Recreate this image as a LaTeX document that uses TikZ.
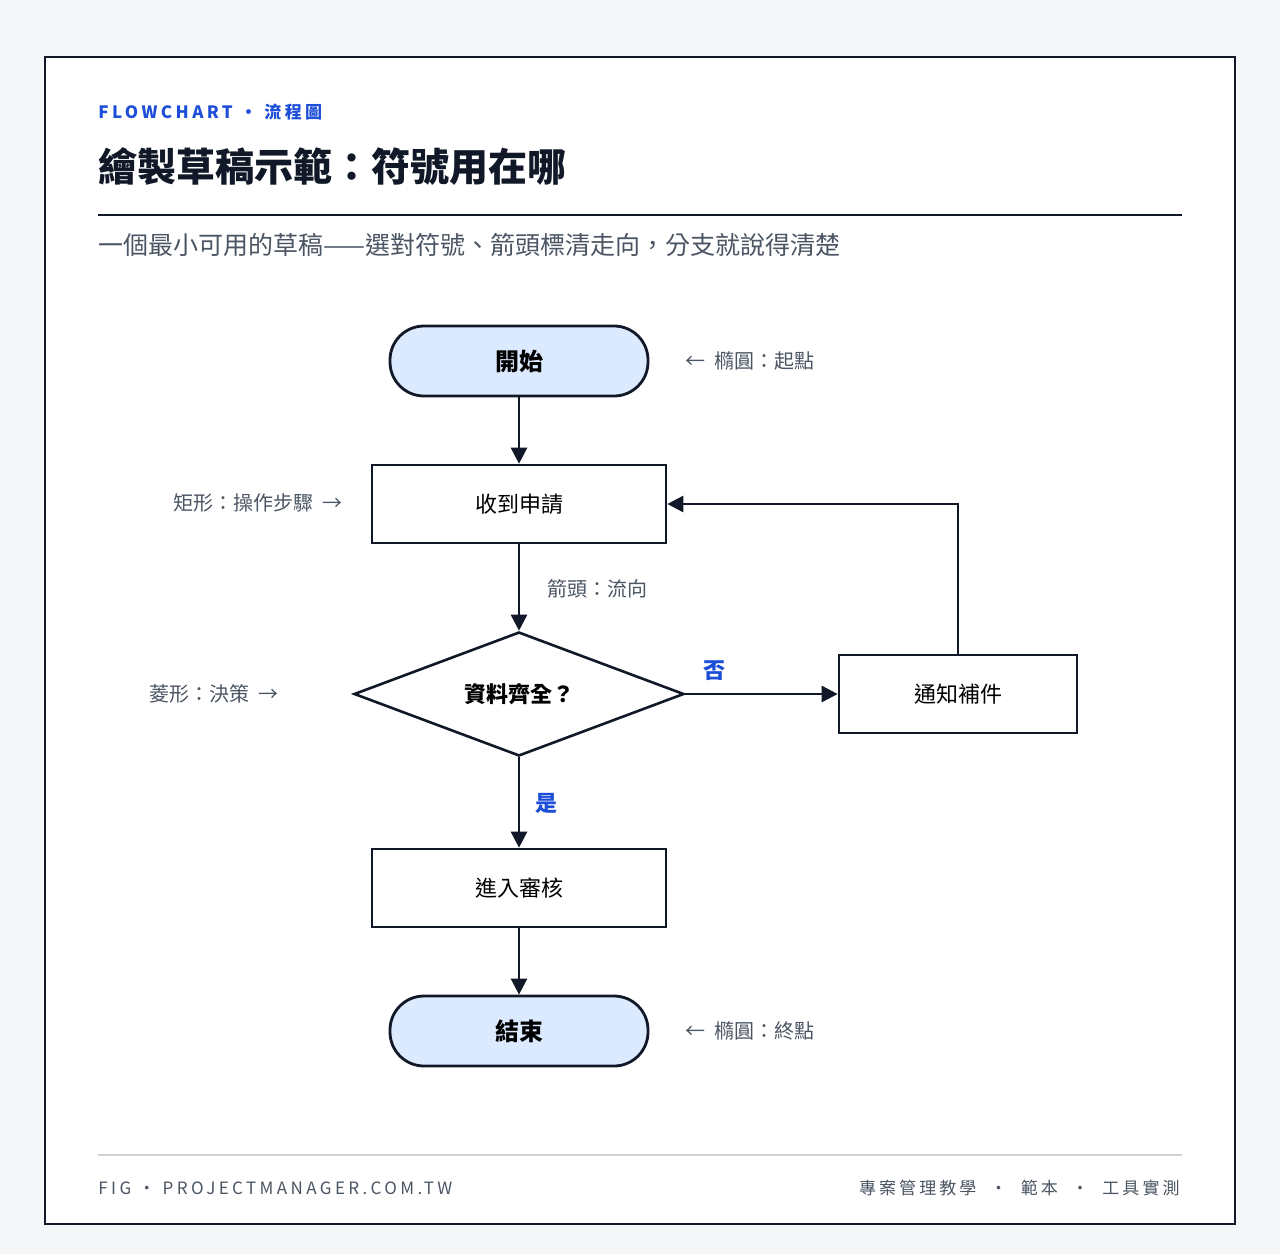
\documentclass[tikz,border=0pt]{standalone}
\usepackage{fontspec}
\setmainfont{Noto Sans CJK TC}
\newfontfamily\spaced{Noto Sans CJK TC}[LetterSpace=20]
\newfontfamily\spacedlight{Noto Sans CJK TC}[LetterSpace=18]
\usetikzlibrary{shapes.geometric,arrows.meta,positioning}
\definecolor{ink}{HTML}{111827}
\definecolor{accent}{HTML}{1D4ED8}
\definecolor{muted}{HTML}{4B5563}
\definecolor{softblue}{HTML}{DBEAFE}
\definecolor{paper}{HTML}{F5F6F8}
\tikzset{
    action/.style={draw=ink, line width=1.3pt, minimum width=147pt, minimum height=39pt, font=\fontsize{11}{13}\selectfont},
    term/.style={draw=ink, fill=softblue, line width=1.4pt, rounded corners=17pt, minimum width=129pt, minimum height=35pt, font=\bfseries\fontsize{12}{14}\selectfont},
    choice/.style={draw=ink, diamond, aspect=2.66, line width=1.3pt, inner sep=0pt, minimum width=165pt, minimum height=62pt, font=\bfseries\fontsize{11}{13}\selectfont},
    flow/.style={-{Triangle[length=8pt,width=8pt]}, draw=ink, line width=1.3pt},
    note/.style={text=muted, font=\fontsize{10}{12}\selectfont},
    answer/.style={text=accent, font=\bfseries\fontsize{11}{13}\selectfont}
}
\begin{document}
\begin{tikzpicture}[x=0.5pt, y=-0.5pt]
        \fill[paper] (0,0) rectangle (1280,1254);
        \useasboundingbox (0,0) rectangle (1280,1254);
        \draw[ink, fill=white, line width=1pt] (45,57) rectangle (1235,1224);

        % header
        \node[anchor=west, inner sep=0pt, text=accent, font=\spaced\bfseries\fontsize{8.5}{10}\selectfont] (kicker) at (98,112) {FLOWCHART\ ·\ 流程圖};
        \node[anchor=west, inner sep=0pt, text=ink, font=\bfseries\fontsize{19.5}{22}\selectfont] (title) at (98,167) {繪製草稿示範：符號用在哪};
        \draw[ink, line width=1pt] (98,215) -- (1182,215);
        \node[anchor=west, inner sep=0pt, text=muted, font=\fontsize{12.5}{15}\selectfont] (subtitle) at (98,245) {一個最小可用的草稿——選對符號、箭頭標清走向，分支就說得清楚};

        % flow
        \node[term] (start) at (519,361) {開始};
        \node[action] (receive) at (519,504) {收到申請};
        \node[choice] (check) at (519,694) {資料齊全？};
        \node[action, minimum width=119pt] (notify) at (958,694) {通知補件};
        \node[action] (review) at (519,888) {進入審核};
        \node[term] (finish) at (519,1031) {結束};

        \draw[flow] (start) -- (receive);
        \draw[flow] (receive) -- (check);
        \draw[flow] (check) -- (review);
        \draw[flow] (review) -- (finish);
        \draw[flow] (check.east) -- (notify.west);
        \draw[flow] (notify.north) |- (receive.east);

        \node[answer] (no) at (714,671) {否};
        \node[answer] (yes) at (546,803) {是};

        % notes
        \node[note, anchor=west] (n1) at (678,361) {←\ \ 橢圓：起點};
        \node[note, anchor=east] (n2) at (350,503) {矩形：操作步驟\ \ →};
        \node[note, anchor=west] (n3) at (540,589) {箭頭：流向};
        \node[note, anchor=east] (n4) at (286,694) {菱形：決策\ \ →};
        \node[note, anchor=west] (n5) at (678,1031) {←\ \ 橢圓：終點};

        % footer
        \draw[gray!35, line width=0.8pt] (98,1155) -- (1182,1155);
        \node[anchor=west, inner sep=0pt, text=muted, font=\spaced\fontsize{8.5}{10}\selectfont] (fig) at (98,1188) {FIG\ ·\ PROJECTMANAGER.COM.TW};
        \node[anchor=east, inner sep=0pt, text=muted, font=\spacedlight\fontsize{8.5}{10}\selectfont] (tags) at (1180,1188) {專案管理教學\ \ ·\ \ 範本\ \ ·\ \ 工具實測};
\end{tikzpicture}
\end{document}
